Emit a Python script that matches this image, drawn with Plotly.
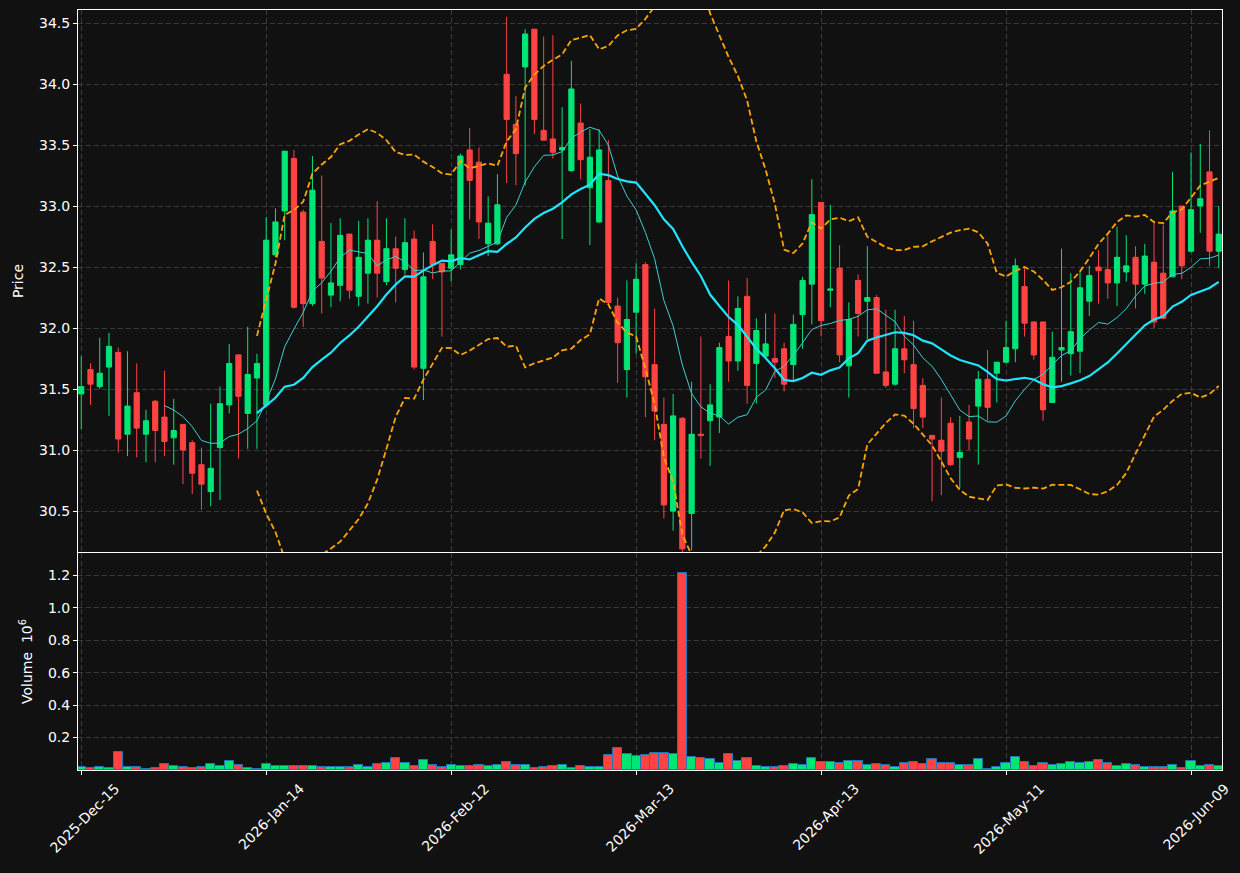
import plotly.graph_objects as go
import pandas as pd

# ---------------- data ----------------
open_ = [31.46, 31.66, 31.52, 31.68, 31.80, 31.13, 31.47, 31.13, 31.40, 31.27,
         31.10, 31.21, 31.06, 30.88, 30.66, 31.02, 31.37, 31.78, 31.30, 31.59,
         31.37, 32.60, 32.96, 33.39, 32.95, 32.20, 32.71, 32.27, 32.35, 32.77,
         32.26, 32.45, 32.72, 32.38, 32.65, 32.48, 32.73, 31.67, 32.71, 32.53,
         32.49, 32.52, 33.46, 33.36, 32.69, 32.69, 34.08, 33.67, 34.14, 34.45,
         33.62, 33.55, 33.46, 33.29, 33.68, 33.15, 32.87, 33.21, 32.18, 31.66,
         32.13, 32.52, 31.70, 31.21, 30.50, 31.26, 30.48, 31.13, 31.24, 31.27,
         31.93, 31.73, 32.26, 31.71, 31.77, 31.75, 31.83, 31.70, 32.11, 32.36,
         33.03, 32.31, 32.49, 31.69, 32.39, 32.22, 32.25, 31.64, 31.54, 31.83,
         31.70, 31.53, 31.12, 31.08, 31.22, 30.94, 31.23, 31.36, 31.58, 31.63,
         31.72, 31.83, 32.34, 32.05, 32.05, 31.39, 31.82, 31.79, 31.81, 32.22,
         32.50, 32.48, 32.37, 32.46, 32.58, 32.36, 32.54, 32.45, 32.42, 33.00,
         32.63, 33.00, 33.28, 32.63]
high_ = [31.77, 31.71, 31.92, 31.96, 31.84, 31.81, 31.71, 31.33, 31.41, 31.65,
         31.42, 31.21, 31.08, 31.02, 31.38, 31.52, 31.87, 31.78, 32.01, 31.79,
         32.91, 32.98, 33.45, 33.46, 32.97, 33.41, 33.25, 32.86, 32.90, 32.77,
         32.88, 32.90, 33.04, 32.90, 32.75, 32.90, 32.80, 32.62, 32.85, 32.53,
         32.81, 33.43, 33.64, 33.48, 33.08, 33.26, 34.55, 33.90, 34.45, 34.45,
         34.39, 34.40, 33.81, 34.19, 33.84, 33.63, 33.63, 33.54, 32.25, 32.39,
         32.53, 32.54, 32.16, 31.43, 31.46, 31.27, 31.56, 31.93, 31.54, 31.88,
         32.39, 32.26, 32.41, 32.08, 32.12, 32.12, 31.88, 32.11, 32.42, 33.22,
         33.03, 33.01, 32.68, 32.21, 32.44, 32.67, 32.27, 32.15, 32.15, 32.10,
         32.06, 31.59, 31.12, 31.43, 31.27, 31.28, 31.37, 31.65, 31.82, 31.72,
         32.06, 32.57, 32.50, 32.05, 32.05, 31.97, 32.65, 32.45, 32.47, 32.51,
         32.64, 32.76, 32.83, 32.76, 32.67, 32.69, 32.88, 32.85, 33.28, 33.00,
         33.44, 33.51, 33.62, 33.00]
low_ = [31.17, 31.37, 31.50, 31.28, 30.98, 30.95, 30.94, 30.90, 30.90, 30.95,
        30.88, 30.72, 30.64, 30.51, 30.54, 30.59, 31.30, 30.93, 31.01, 31.01,
        31.35, 32.58, 32.72, 32.16, 32.01, 32.18, 32.12, 32.17, 32.22, 32.24,
        32.18, 32.20, 32.25, 32.35, 32.21, 32.44, 31.66, 31.41, 32.40, 31.93,
        32.38, 32.48, 32.89, 32.73, 32.59, 32.68, 33.19, 33.17, 33.17, 33.59,
        33.54, 33.39, 32.73, 33.28, 33.22, 32.68, 32.86, 32.19, 31.55, 31.43,
        31.79, 31.27, 31.08, 30.44, 30.34, 30.15, 30.18, 30.93, 30.87, 31.14,
        31.56, 31.65, 31.38, 31.38, 31.76, 31.59, 31.48, 31.57, 31.83, 32.03,
        31.93, 32.17, 31.72, 31.43, 31.93, 31.91, 31.63, 31.51, 31.53, 31.63,
        31.18, 31.18, 30.58, 30.63, 30.87, 30.69, 31.00, 30.88, 31.24, 31.39,
        31.71, 31.72, 31.93, 31.74, 31.24, 31.39, 31.56, 31.61, 31.63, 32.10,
        32.20, 32.24, 32.18, 32.38, 32.16, 32.28, 32.00, 32.08, 32.42, 32.40,
        32.62, 32.78, 32.51, 32.49]
close_ = [31.52, 31.54, 31.63, 31.85, 31.09, 31.36, 31.18, 31.24, 31.16, 31.07,
          31.16, 31.00, 30.81, 30.72, 30.85, 31.38, 31.71, 31.44, 31.62, 31.71,
          32.72, 32.87, 33.45, 32.17, 32.20, 33.13, 32.41, 32.37, 32.76, 32.31,
          32.58, 32.72, 32.45, 32.65, 32.49, 32.70, 31.68, 32.42, 32.52, 32.46,
          32.60, 33.41, 33.21, 32.87, 32.86, 33.01, 33.71, 33.43, 34.41, 33.71,
          33.54, 33.44, 33.48, 33.96, 33.38, 33.40, 33.46, 32.21, 31.88, 32.07,
          32.40, 31.60, 31.32, 30.55, 31.28, 30.19, 31.13, 31.12, 31.37, 31.84,
          31.73, 32.16, 31.53, 31.98, 31.87, 31.72, 31.54, 32.03, 32.39, 32.93,
          32.06, 32.32, 31.78, 32.07, 32.12, 32.25, 31.63, 31.53, 31.83, 31.74,
          31.34, 31.27, 31.09, 30.99, 30.88, 30.98, 31.09, 31.58, 31.35, 31.72,
          31.84, 32.51, 32.04, 31.78, 31.33, 31.76, 31.84, 31.97, 32.33, 32.43,
          32.47, 32.37, 32.58, 32.51, 32.36, 32.59, 32.05, 32.08, 32.96, 32.51,
          32.97, 33.06, 32.63, 32.77]
volume_ = [20000, 13000, 20000, 13000, 112000, 20000, 20000, 9000, 13000, 38000,
           26000, 20000, 13000, 20000, 38000, 26000, 56000, 32000, 13000, 9000,
           38000, 26000, 26000, 26000, 26000, 26000, 20000, 20000, 20000, 20000,
           32000, 20000, 38000, 44000, 75000, 44000, 26000, 63000, 32000, 20000,
           32000, 26000, 26000, 32000, 26000, 32000, 50000, 32000, 32000, 13000,
           20000, 26000, 32000, 13000, 26000, 20000, 20000, 93000, 136000, 99000,
           87000, 93000, 104000, 104000, 99000, 1215000, 81000, 75000, 69000, 42000,
           99000, 56000, 75000, 26000, 20000, 20000, 26000, 38000, 32000, 75000,
           50000, 50000, 42000, 56000, 56000, 32000, 38000, 32000, 20000, 42000,
           50000, 38000, 69000, 42000, 42000, 32000, 32000, 69000, 9000, 20000,
           42000, 81000, 50000, 26000, 42000, 32000, 38000, 50000, 42000, 50000,
           63000, 42000, 26000, 38000, 32000, 20000, 20000, 20000, 32000, 13000,
           56000, 26000, 32000, 26000]

tick_index = [0, 20, 40, 60, 80, 100, 120]
tick_labels = ["2025-Dec-15", "2026-Jan-14", "2026-Feb-12", "2026-Mar-13",
               "2026-Apr-13", "2026-May-11", "2026-Jun-09"]

# ---------------- derived indicators ----------------
x = list(range(len(close_)))
cs = pd.Series(close_)
ma10 = cs.rolling(10).mean()
ma20 = cs.rolling(20).mean()
sd20 = cs.rolling(20).std(ddof=0)
bb_up = ma20 + 2 * sd20
bb_dn = ma20 - 2 * sd20

UP = "#00e676"
DOWN = "#ff4343"
BG = "#111111"
GRID = "#3a3a3a"
FONT = "DejaVu Sans"

vol_colors = [UP if c >= o else DOWN for o, c in zip(open_, close_)]

fig = go.Figure()

fig.add_trace(go.Candlestick(
    x=x, open=open_, high=high_, low=low_, close=close_,
    increasing=dict(line=dict(color=UP, width=1), fillcolor=UP),
    decreasing=dict(line=dict(color=DOWN, width=1), fillcolor=DOWN),
    whiskerwidth=0, xaxis="x", yaxis="y", showlegend=False, hoverinfo="skip"))

fig.add_trace(go.Scatter(x=x, y=ma10, mode="lines",
                         line=dict(color="#3fcfcf", width=1),
                         xaxis="x", yaxis="y", showlegend=False, hoverinfo="skip"))
fig.add_trace(go.Scatter(x=x, y=ma20, mode="lines",
                         line=dict(color="#1ee6ff", width=2.2),
                         xaxis="x", yaxis="y", showlegend=False, hoverinfo="skip"))
for band in (bb_up, bb_dn):
    fig.add_trace(go.Scatter(x=x, y=band, mode="lines",
                             line=dict(color="#ffa500", width=1.8, dash="6px,3px"),
                             xaxis="x", yaxis="y", showlegend=False, hoverinfo="skip"))

fig.add_trace(go.Bar(x=x, y=[v / 1e6 for v in volume_], width=1.0,
                     marker=dict(color=vol_colors, line=dict(color="#1f77b4", width=1)),
                     xaxis="x2", yaxis="y2", showlegend=False, hoverinfo="skip"))

axis_common = dict(showline=True, linecolor="white", linewidth=1, mirror=True,
                   showgrid=True, gridcolor=GRID, griddash="5px,3px", gridwidth=0.8,
                   zeroline=False, tickcolor="white", ticklen=4, automargin=False,
                   tickfont=dict(color="white", size=14, family=FONT))

xr = [-0.35, 123.35]
fig.update_layout(
    width=1240, height=873,
    paper_bgcolor=BG, plot_bgcolor=BG,
    margin=dict(l=78, r=18, t=10, b=103),
    boxgap=0.2, boxgroupgap=0.3,
    bargap=0,
    showlegend=False,
    font=dict(family=FONT, color="white", size=14),
    xaxis=dict(domain=[0, 1], anchor="y", range=xr, tickvals=tick_index,
               showticklabels=False, ticks="", rangeslider=dict(visible=False),
               **axis_common),
    yaxis=dict(domain=[0.2868, 1], anchor="x", range=[30.164, 34.607],
               tickvals=[30.5, 31.0, 31.5, 32.0, 32.5, 33.0, 33.5, 34.0, 34.5],
               ticktext=["30.5", "31.0", "31.5", "32.0", "32.5", "33.0", "33.5", "34.0", "34.5"],
               ticks="outside", title=dict(text="Price", font=dict(size=14, color="white"), standoff=12),
               **axis_common),
    xaxis2=dict(domain=[0, 1], anchor="y2", range=xr, tickvals=tick_index,
                ticktext=tick_labels, tickangle=-45, ticks="outside",
                ticklabelshift=34,
                **axis_common),
    yaxis2=dict(domain=[0, 0.2855], anchor="x2", range=[0, 1.338],
                tickvals=[0.2, 0.4, 0.6, 0.8, 1.0, 1.2],
                ticktext=["0.2", "0.4", "0.6", "0.8", "1.0", "1.2"],
                ticks="outside",
                title=dict(text="Volume  10<sup>6</sup>", font=dict(size=14, color="white"), standoff=12),
                **axis_common),
)

fig.write_html("out.html")
